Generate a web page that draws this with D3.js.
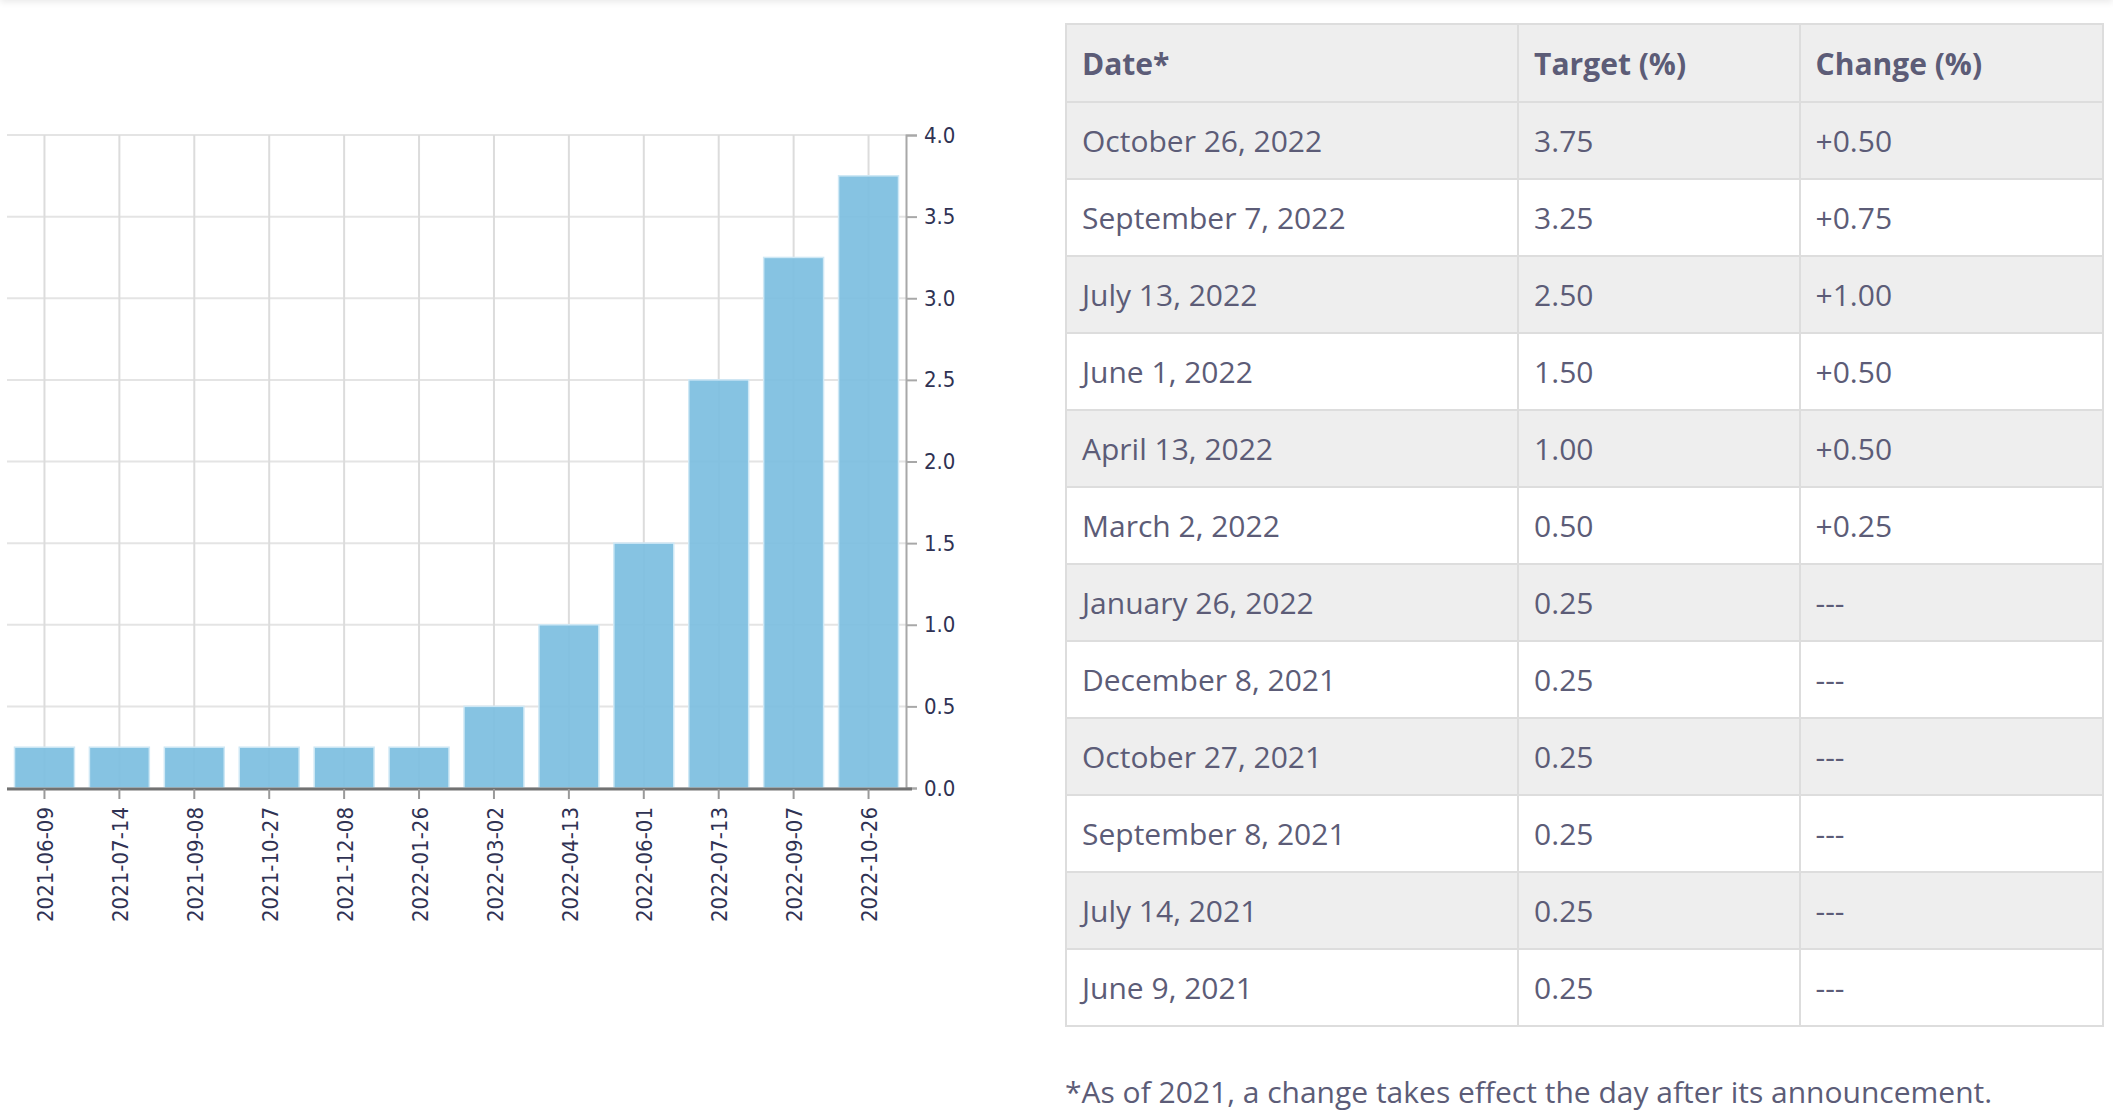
<!DOCTYPE html>
<html>
<head>
<meta charset="utf-8">
<script src="https://cdn.jsdelivr.net/npm/d3@7"></script>
<style>
  body { margin: 0; background: #fff; width: 2113px; height: 1111px; overflow: hidden; position: relative; }
  #topbar { position: absolute; left: 0; top: -10px; width: 2113px; height: 10px; box-shadow: 0 2px 7px rgba(0,0,0,0.09); }
  #chart { position: absolute; left: 0; top: 0; }
  #rates { position: absolute; left: 1065px; top: 23px; width: 1039px; border-collapse: collapse;
           font-family: "Open Sans", sans-serif; font-size: 30px; color: #5c5c77; }
  #rates th, #rates td { border: 2px solid #dddddd; padding: 0 0 0 15px; text-align: left; vertical-align: middle; height: 75px; }
  #rates th { font-weight: bold; height: 76px; background: #eeeeee; }
  #rates tbody tr:nth-child(odd) td { background: #eeeeee; }
  #note { position: absolute; left: 1065px; top: 1071px; font-family: "Open Sans", sans-serif; font-size: 30px; color: #5c5c77; white-space: nowrap; }
</style>
</head>
<body>
<div id="topbar"></div>
<div id="chart"></div>
<div id="table-holder"></div>
<div id="note">*As of 2021, a change takes effect the day after its announcement.</div>
<script>
// Chart data
var barDates = ["2021-06-09","2021-07-14","2021-09-08","2021-10-27","2021-12-08","2022-01-26",
                "2022-03-02","2022-04-13","2022-06-01","2022-07-13","2022-09-07","2022-10-26"];
var barTargets = [0.25, 0.25, 0.25, 0.25, 0.25, 0.25, 0.50, 1.00, 1.50, 2.50, 3.25, 3.75];
var yTicks = [0, 0.5, 1.0, 1.5, 2.0, 2.5, 3.0, 3.5, 4.0];

// Table data
var tableHeaders = ["Date*", "Target (%)", "Change (%)"];
var tableDates = ["October 26, 2022","September 7, 2022","July 13, 2022","June 1, 2022","April 13, 2022",
                  "March 2, 2022","January 26, 2022","December 8, 2021","October 27, 2021",
                  "September 8, 2021","July 14, 2021","June 9, 2021"];
var tableTargets = ["3.75","3.25","2.50","1.50","1.00","0.50","0.25","0.25","0.25","0.25","0.25","0.25"];
var tableChanges = ["+0.50","+0.75","+1.00","+0.50","+0.50","+0.25","---","---","---","---","---","---"];

var drawChart = function() {
	var width = 1050, height = 1111,
		left = 7, right = 906, top = 135, bottom = 788,
		labelColor = "#2f3253",
		labelFont = "'Liberation Sans Narrow', 'DejaVu Sans Condensed', sans-serif";

	var xScale = d3.scaleBand().domain(barDates).range([left, right]).paddingInner(0.2).paddingOuter(0.1),
		yScale = d3.scaleLinear().domain([0, 4]).range([bottom, top]);

	var svg = d3.select("#chart").append("svg")
		.attr("width", width)
		.attr("height", height);

	// Horizontal grid
	svg.append("g").selectAll("line")
		.data(yTicks)
		.enter().append("line")
		.attr("x1", left).attr("x2", right)
		.attr("y1", function(d) { return yScale(d); })
		.attr("y2", function(d) { return yScale(d); })
		.attr("stroke", "#e4e4e4").attr("stroke-width", 2);

	// Vertical grid at each band centre
	svg.append("g").selectAll("line")
		.data(barDates)
		.enter().append("line")
		.attr("x1", function(d) { return xScale(d) + xScale.bandwidth() / 2; })
		.attr("x2", function(d) { return xScale(d) + xScale.bandwidth() / 2; })
		.attr("y1", top).attr("y2", bottom)
		.attr("stroke", "#dcdcdc").attr("stroke-width", 2);

	// Bars
	svg.append("g").selectAll("rect")
		.data(barTargets)
		.enter().append("rect")
		.attr("x", function(d, i) { return xScale(barDates[i]); })
		.attr("y", function(d) { return yScale(d); })
		.attr("width", xScale.bandwidth())
		.attr("height", function(d) { return yScale(0) - yScale(d); })
		.attr("fill", "rgb(124,190,224)")
		.attr("fill-opacity", 0.92)
		.attr("stroke", "#cfe8f5")
		.attr("stroke-width", 1.5);

	// Right axis
	var yAxis = svg.append("g")
		.attr("transform", "translate(" + right + ",0)")
		.call(d3.axisRight(yScale).tickValues(yTicks).tickFormat(d3.format(".1f")).tickSize(11).tickPadding(7));
	yAxis.select(".domain").attr("stroke", "#a8a8a8").attr("stroke-width", 2);
	yAxis.selectAll(".tick line").attr("stroke", "#a8a8a8").attr("stroke-width", 2);
	yAxis.selectAll(".tick text")
		.attr("fill", labelColor)
		.attr("font-family", labelFont)
		.attr("font-size", 22);

	// Bottom axis
	var xAxis = svg.append("g")
		.attr("transform", "translate(0," + (bottom + 1) + ")")
		.call(d3.axisBottom(xScale).tickSize(10).tickSizeOuter(0));
	xAxis.select(".domain").attr("stroke", "#727272").attr("stroke-width", 3)
		.attr("d", "M" + left + ",0H" + (right + 6));
	xAxis.selectAll(".tick line").attr("stroke", "#9a9a9a").attr("stroke-width", 2);
	xAxis.selectAll(".tick text")
		.attr("fill", labelColor)
		.attr("font-family", labelFont)
		.attr("font-size", 22)
		.attr("text-anchor", "end")
		.attr("transform", "translate(1,18) rotate(-90)")
		.attr("x", 0).attr("y", 0).attr("dy", "0.35em");
};

var drawTable = function() {
	var table = d3.select("#table-holder").append("table").attr("id", "rates");
	var colWidths = [453, 282, 304];

	table.append("thead").append("tr").selectAll("th")
		.data(tableHeaders)
		.enter().append("th")
		.style("width", function(d, i) { return (colWidths[i] - 17) + "px"; })
		.text(function(d) { return d; });

	var rows = table.append("tbody").selectAll("tr")
		.data(tableDates)
		.enter().append("tr");

	rows.selectAll("td")
		.data(function(d, i) { return [d, tableTargets[i], tableChanges[i]]; })
		.enter().append("td")
		.text(function(d) { return d; });
};

drawChart();
drawTable();
</script>
</body>
</html>
